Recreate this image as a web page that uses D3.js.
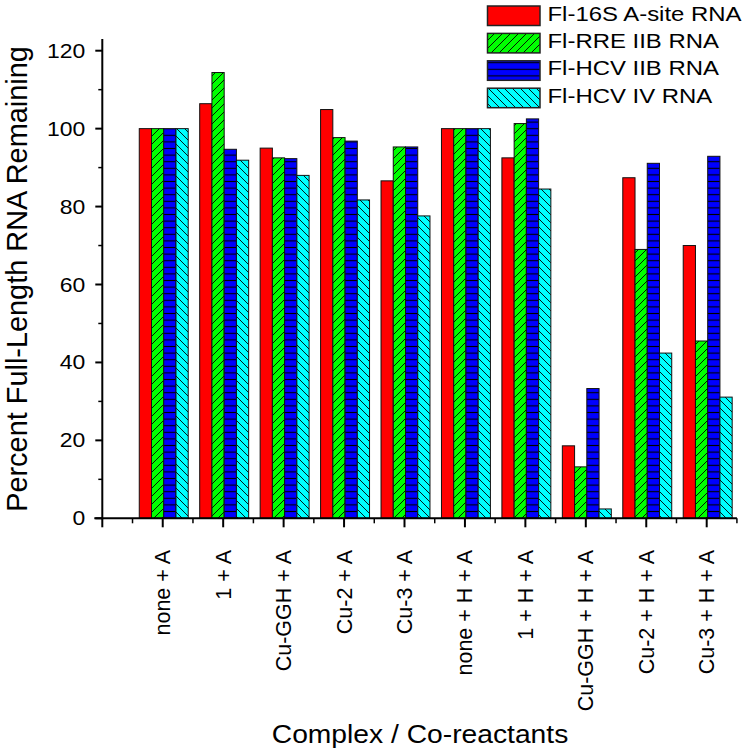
<!DOCTYPE html>
<html>
<head>
<meta charset="utf-8">
<script src="https://cdn.jsdelivr.net/npm/d3@7"></script>
<style>
  html, body { margin: 0; padding: 0; background: #fff; }
  svg { display: block; }
  text { font-family: Arial, "Liberation Sans", sans-serif; fill: #000; }
</style>
</head>
<body>
<svg id="chart" width="750" height="756"></svg>
<script>
// ---- data ----
const categories = ["none + A", "1 + A", "Cu-GGH + A", "Cu-2 + A", "Cu-3 + A",
  "none + H + A", "1 + H + A", "Cu-GGH + H + A", "Cu-2 + H + A", "Cu-3 + H + A"];
const seriesNames = ["Fl-16S A-site RNA", "Fl-RRE IIB RNA", "Fl-HCV IIB RNA", "Fl-HCV IV RNA"];
const s16S   = [100, 106.4, 95.0, 104.9, 86.6, 100, 92.5, 18.6, 87.4, 70.0];
const sRRE   = [100, 114.4, 92.5, 97.7, 95.3, 100, 101.3, 13.2, 69.0, 45.5];
const sHCV2B = [100, 94.7, 92.3, 96.8, 95.3, 100, 102.5, 33.3, 91.1, 92.9];
const sHCV4  = [100, 91.9, 88.0, 81.7, 77.6, 100, 84.5, 2.4, 42.4, 31.1];
const yTicks = [0, 20, 40, 60, 80, 100, 120];
const yMinor = [10, 30, 50, 70, 90, 110];
const yTitle = "Percent Full-Length RNA Remaining";
const xTitle = "Complex / Co-reactants";

const seriesValues = [s16S, sRRE, sHCV2B, sHCV4];

const svg = d3.select("#chart");
const defs = svg.append("defs");

function stretchTo(sel, targetWidth, x0, y0) {
  const w = sel.node().getComputedTextLength();
  const sx = targetWidth / w;
  sel.attr("transform", `translate(${x0},${y0}) scale(${sx},1)`);
  return sx;
}

function pat(id, w, h, bg, drawFn) {
  const p = defs.append("pattern").attr("id", id)
    .attr("patternUnits", "userSpaceOnUse").attr("width", w).attr("height", h);
  p.append("rect").attr("width", w).attr("height", h).attr("fill", bg);
  drawFn(p);
}
pat("pRed", 8, 8, "#ff0000", () => {});
pat("pGreen", 8, 8, "#00ff00", p => {
  p.append("path").attr("d", "M-2,10 L10,-2 M-2,2 L2,-2 M6,10 L10,6")
    .attr("stroke", "#000").attr("stroke-width", 0.9).attr("fill", "none");
});
pat("pBlue", 8, 6.6, "#0000ff", p => {
  p.append("line").attr("x1", 0).attr("x2", 8).attr("y1", 3.3).attr("y2", 3.3)
    .attr("stroke", "#000").attr("stroke-width", 1.1);
});
pat("pCyan", 8, 8, "#00ffff", p => {
  p.append("path").attr("d", "M-2,-2 L10,10 M6,-2 L10,2 M-2,6 L2,10")
    .attr("stroke", "#000").attr("stroke-width", 0.9).attr("fill", "none");
});
const fills = ["url(#pRed)", "url(#pGreen)", "url(#pBlue)", "url(#pCyan)"];

const x = d3.scaleLinear().domain([-1, 9]).range([102.3, 706.7]);
const step = x(1) - x(0);
const y = d3.scaleLinear().domain([0, 120]).range([518.3, 50.7]);
const groupW = 0.81 * step;
const barW = groupW / 4;

// bars
categories.forEach((c, i) => {
  seriesValues.forEach((vals, s) => {
    const v = vals[i];
    svg.append("rect")
      .attr("x", x(i) - groupW / 2 + s * barW + 1)
      .attr("y", y(v))
      .attr("width", barW)
      .attr("height", y(0) - y(v))
      .attr("fill", fills[s])
      .attr("stroke", "#111").attr("stroke-width", 1);
  });
});

// y axis
const yAxisG = svg.append("g").attr("transform", `translate(${x(-1)},0)`);
yAxisG.append("line").attr("x1", 0).attr("x2", 0).attr("y1", 39).attr("y2", y(0) + 1)
  .attr("stroke", "#000").attr("stroke-width", 2);
yTicks.forEach(t => {
  yAxisG.append("line").attr("x1", -7).attr("x2", 0).attr("y1", y(t)).attr("y2", y(t))
    .attr("stroke", "#000").attr("stroke-width", 2);
});
let tickSx;
{
  const probe = yAxisG.append("text").attr("font-size", 20).text("120");
  tickSx = 38.3 / probe.node().getComputedTextLength();
  probe.remove();
}
yTicks.forEach(t => {
  yAxisG.append("text")
    .attr("transform", `translate(-17,${y(t) + 7}) scale(${tickSx},1)`)
    .attr("text-anchor", "end").attr("font-size", 20).text(t);
});
yMinor.forEach(t => {
  yAxisG.append("line").attr("x1", -4).attr("x2", 0).attr("y1", y(t)).attr("y2", y(t))
    .attr("stroke", "#000").attr("stroke-width", 1.5);
});

// x axis
const xAxisG = svg.append("g").attr("transform", `translate(0,${y(0)})`);
xAxisG.append("line").attr("x1", x(-1) - 8).attr("x2", x(9.5)).attr("y1", 0).attr("y2", 0)
  .attr("stroke", "#000").attr("stroke-width", 2);
d3.range(-1, 10).forEach(i => {
  xAxisG.append("line").attr("x1", x(i)).attr("x2", x(i)).attr("y1", 0).attr("y2", 9)
    .attr("stroke", "#000").attr("stroke-width", 2);
});
d3.range(-0.5, 10, 1).forEach(i => {
  xAxisG.append("line").attr("x1", x(i)).attr("x2", x(i)).attr("y1", 0).attr("y2", 5)
    .attr("stroke", "#000").attr("stroke-width", 1.5);
});
categories.forEach((c, i) => {
  svg.append("text")
    .attr("transform", `translate(${x(i) + 7.5},550) rotate(-90)`)
    .attr("text-anchor", "end").attr("font-size", 21.5).text(c);
});

// titles
{
  const t = svg.append("text").attr("text-anchor", "middle").attr("font-size", 25).text(xTitle);
  stretchTo(t, 296.7, 420, 743);
}
{
  const t = svg.append("text").attr("text-anchor", "middle").attr("font-size", 27).text(yTitle);
  const w = t.node().getComputedTextLength();
  const fs = 27 * 466 / w;
  t.attr("font-size", fs).attr("transform", `translate(27,279) rotate(-90)`);
}

// legend
const legend = svg.append("g");
let legSx;
{
  const probe = legend.append("text").attr("font-size", 19.6).text(seriesNames[0]);
  legSx = 194 / probe.node().getComputedTextLength();
  probe.remove();
}
seriesNames.forEach((n, s) => {
  const top = 6 + s * 27.4;
  legend.append("rect").attr("x", 487.5).attr("y", top).attr("width", 52.5).attr("height", 19.5)
    .attr("fill", fills[s]).attr("stroke", "#222").attr("stroke-width", 1.5);
  legend.append("text")
    .attr("transform", `translate(547.5,${top + 14.5}) scale(${legSx},1)`)
    .attr("font-size", 19.6).text(n);
});
</script>
</body>
</html>
